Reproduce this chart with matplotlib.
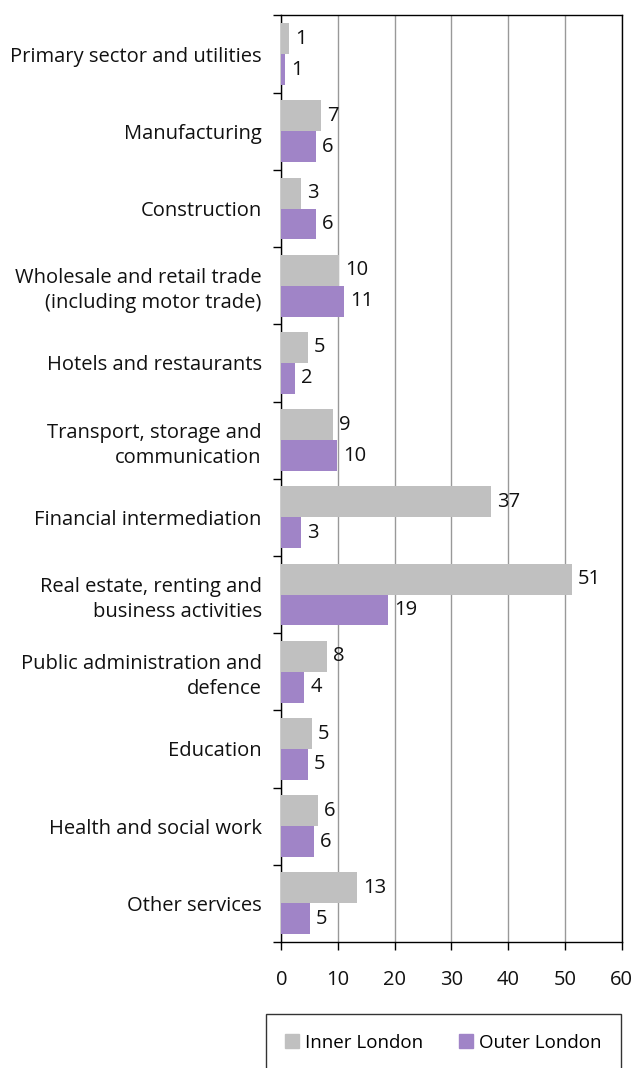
import numpy as np
import matplotlib.pyplot as plt
from matplotlib.patches import Patch

plt.rcParams['font.family'] = ['Open Sans', 'DejaVu Sans']

categories = [
    'Primary sector and utilities',
    'Manufacturing',
    'Construction',
    'Wholesale and retail trade\n(including motor trade)',
    'Hotels and restaurants',
    'Transport, storage and\ncommunication',
    'Financial intermediation',
    'Real estate, renting and\nbusiness activities',
    'Public administration and\ndefence',
    'Education',
    'Health and social work',
    'Other services',
]
inner_london = [1.35, 7.0, 3.45, 10.2, 4.7, 9.1, 37.0, 51.2, 8.05, 5.4, 6.45, 13.4]
outer_london = [0.6, 6.1, 6.1, 11.05, 2.4, 9.8, 3.45, 18.8, 4.0, 4.7, 5.75, 5.05]
x_ticks = [0, 10, 20, 30, 40, 50, 60]

inner_color = '#c0c0c0'
outer_color = '#a084c7'
text_color = '#111111'
fs = 14.5

fig = plt.figure(figsize=(6.35, 10.68), dpi=100)
ax = fig.add_axes([0.443, 0.118, 0.536, 0.8675])

y = np.arange(len(categories))
h = 0.4
ax.barh(y - h / 2, inner_london, height=h, color=inner_color, zorder=3)
ax.barh(y + h / 2, outer_london, height=h, color=outer_color, zorder=3)

# value labels just past the end of each bar
for yi, v in zip(y, inner_london):
    ax.text(v + 1.1, yi - h / 2, f'{v:.0f}', va='center', ha='left', fontsize=fs, color=text_color)
for yi, v in zip(y, outer_london):
    ax.text(v + 1.1, yi + h / 2, f'{v:.0f}', va='center', ha='left', fontsize=fs, color=text_color)

ax.set_ylim(len(categories) - 0.5, -0.5)
ax.set_xlim(0, 60)
ax.set_xticks(x_ticks)
ax.set_yticks(np.arange(len(categories) + 1) - 0.5)
ax.set_yticklabels([])
ax.set_yticks(y, minor=True)
ax.set_yticklabels(categories, minor=True, fontsize=fs, color=text_color, linespacing=1.35, ha='right')
ax.tick_params(axis='y', which='minor', length=0, pad=14)
ax.tick_params(axis='y', which='major', length=6, width=1, direction='out')
ax.tick_params(axis='x', length=6, width=1, direction='out', pad=14, labelsize=fs, labelcolor=text_color)

ax.grid(axis='x', color='#999999', linewidth=1, zorder=0)
for s in ax.spines.values():
    s.set_color('black')
    s.set_linewidth(1)

handles = [Patch(color=inner_color), Patch(color=outer_color)]
leg = fig.legend(handles, ['Inner London', 'Outer London'], loc='upper left',
                 bbox_to_anchor=(265.7 / 635, 1 - 1014 / 1068), ncol=2, frameon=True,
                 fancybox=False, edgecolor='black', fontsize=13.5, handlelength=0.75,
                 handleheight=0.75, handletextpad=0.3, columnspacing=1.9,
                 borderpad=1.05, borderaxespad=0)
leg.get_frame().set_linewidth(1)

fig.savefig('out.png', dpi=100)
